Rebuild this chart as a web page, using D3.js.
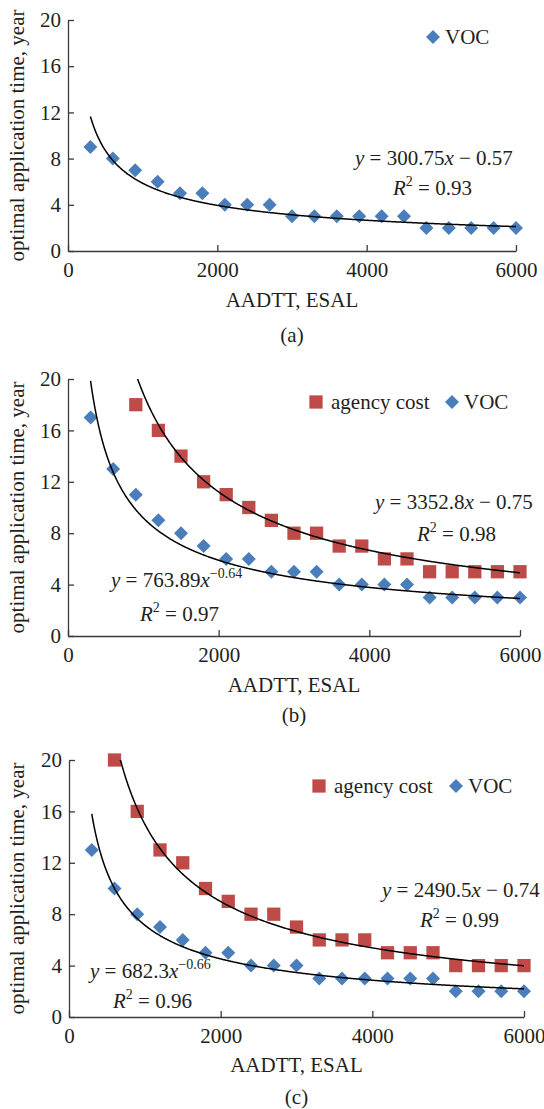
<!DOCTYPE html>
<html>
<head>
<meta charset="utf-8">
<script src="https://cdn.jsdelivr.net/npm/d3@7"></script>
<style>
  body { margin: 0; background: #fff; }
</style>
</head>
<body>
<div id="chart"></div>
<script>
// x values (AADTT, ESAL)
const aadtt = [300, 600, 900, 1200, 1500, 1800, 2100, 2400, 2700, 3000, 3300, 3600, 3900, 4200, 4500, 4800, 5100, 5400, 5700, 6000];
const aadttAgencyB = [900, 1200, 1500, 1800, 2100, 2400, 2700, 3000, 3300, 3600, 3900, 4200, 4500, 4800, 5100, 5400, 5700, 6000];
const aadttAgencyC = [600, 900, 1200, 1500, 1800, 2100, 2400, 2700, 3000, 3300, 3600, 3900, 4200, 4500, 4800, 5100, 5400, 5700, 6000];

// optimal application time, year
const vocA = [9, 8, 7, 6, 5, 5, 4, 4, 4, 3, 3, 3, 3, 3, 3, 2, 2, 2, 2, 2];
const vocB = [17, 13, 11, 9, 8, 7, 6, 6, 5, 5, 5, 4, 4, 4, 4, 3, 3, 3, 3, 3];
const agencyB = [18, 16, 14, 12, 11, 10, 9, 8, 8, 7, 7, 6, 6, 5, 5, 5, 5, 5];
const vocC = [13, 10, 8, 7, 6, 5, 5, 4, 4, 4, 3, 3, 3, 3, 3, 3, 2, 2, 2, 2];
const agencyC = [20, 16, 13, 12, 10, 9, 8, 8, 7, 6, 6, 6, 5, 5, 5, 4, 4, 4, 4];

// power trendlines y = a * x^b, and R^2
const fitVocA = [300.75, -0.57, "0.93"];
const fitVocB = [763.89, -0.64, "0.97"];
const fitAgencyB = [3352.8, -0.75, "0.98"];
const fitVocC = [682.3, -0.66, "0.96"];
const fitAgencyC = [2490.5, -0.74, "0.99"];

const xTicks = [0, 2000, 4000, 6000];
const yTicks = [0, 4, 8, 12, 16, 20];
const seriesNames = ["agency cost", "VOC"];

const blue = "#4a7ebb";
const red = "#be4b48";
const axisColor = "#3a3a3a";
const serif = "'Liberation Serif', 'Times New Roman', 'DejaVu Serif', serif";

const W = 544, H = 1109;
const svg = d3.select("#chart").append("svg")
    .attr("width", W)
    .attr("height", H)
    .style("font-family", serif);

const panels = [
  {
    id: "a", top: 20, bottom: 251, left: 68, right: 516,
    titleY: 307, labelY: 342,
    series: [{ x: aadtt, y: vocA, fit: fitVocA, kind: "voc" }],
    legend: [{ kind: "voc", x: 433, y: 37 }],
    eqs: [{ fit: fitVocA, sup: false, x: 355, y: 165, rx: 393, ry: 195 }]
  },
  {
    id: "b", top: 379, bottom: 636, left: 68, right: 520,
    titleY: 692, labelY: 722,
    series: [
      { x: aadttAgencyB, y: agencyB, fit: fitAgencyB, kind: "agency" },
      { x: aadtt, y: vocB, fit: fitVocB, kind: "voc" }
    ],
    legend: [{ kind: "agency", x: 316, y: 402 }, { kind: "voc", x: 452, y: 402 }],
    eqs: [
      { fit: fitAgencyB, sup: false, x: 375, y: 509, rx: 417, ry: 541 },
      { fit: fitVocB, sup: true, x: 111, y: 587, rx: 140, ry: 621 }
    ]
  },
  {
    id: "c", top: 760, bottom: 1017, left: 69, right: 524,
    titleY: 1072, labelY: 1104,
    series: [
      { x: aadttAgencyC, y: agencyC, fit: fitAgencyC, kind: "agency" },
      { x: aadtt, y: vocC, fit: fitVocC, kind: "voc" }
    ],
    legend: [{ kind: "agency", x: 319, y: 786 }, { kind: "voc", x: 456, y: 786 }],
    eqs: [
      { fit: fitAgencyC, sup: false, x: 382, y: 897, rx: 420, ry: 927 },
      { fit: fitVocC, sup: true, x: 90, y: 978, rx: 113, ry: 1008 }
    ]
  }
];

const diamond = d3.symbol().type(d3.symbolSquare).size(98);
const square = d3.symbol().type(d3.symbolSquare).size(176);

function marker(g, kind, x, y) {
  if (kind === "voc") {
    g.append("path").attr("d", diamond())
      .attr("transform", `translate(${x},${y}) rotate(45)`)
      .attr("fill", blue);
  } else {
    g.append("path").attr("d", square())
      .attr("transform", `translate(${x},${y})`)
      .attr("fill", red);
  }
}

function txt(g) {
  return g.append("text")
    .style("font-family", serif)
    .style("font-size", "21px")
    .attr("fill", "#231f20");
}

panels.forEach(p => {
  const g = svg.append("g");

  const x = d3.scaleLinear().domain([0, 6000]).range([p.left, p.right]);
  const y = d3.scaleLinear().domain([0, 20]).range([p.bottom, p.top]);

  // axes, ticks pointing into the plot
  const xAxis = g.append("g")
      .attr("transform", `translate(0,${p.bottom})`)
      .call(d3.axisBottom(x).tickValues(xTicks).tickSizeInner(-6).tickSizeOuter(0).tickPadding(11).tickFormat(d3.format("d")));
  const yAxis = g.append("g")
      .attr("transform", `translate(${p.left},0)`)
      .call(d3.axisLeft(y).tickValues(yTicks).tickSizeInner(-6).tickSizeOuter(0).tickPadding(7));
  [xAxis, yAxis].forEach(ax => {
    ax.attr("font-family", null).attr("font-size", null);
    ax.select(".domain").attr("stroke", axisColor).attr("stroke-width", 1.3);
    ax.selectAll(".tick line").attr("stroke", axisColor).attr("stroke-width", 1.3);
    ax.selectAll(".tick text")
      .style("font-family", serif)
      .style("font-size", "21px")
      .attr("fill", "#231f20");
  });

  // axis titles
  txt(g)
    .attr("transform", `translate(17,${(p.top + p.bottom) / 2}) rotate(-90)`)
    .attr("text-anchor", "middle")
    .attr("dy", "0.32em")
    .text("optimal application time, year");
  txt(g)
    .attr("x", (p.left + p.right) / 2)
    .attr("y", p.titleY)
    .attr("text-anchor", "middle")
    .text("AADTT, ESAL");
  txt(g)
    .attr("x", (p.left + p.right) / 2)
    .attr("y", p.labelY)
    .attr("text-anchor", "middle")
    .text(`(${p.id})`);

  // trendlines clipped to the plot area
  const clipId = "clip-" + p.id;
  svg.append("clipPath").attr("id", clipId)
    .append("rect")
    .attr("x", p.left).attr("y", p.top)
    .attr("width", p.right - p.left).attr("height", p.bottom - p.top);

  const line = d3.line().x(d => x(d[0])).y(d => y(d[1]));

  p.series.forEach(s => {
    s.x.forEach((v, i) => marker(g, s.kind, x(v), y(s.y[i])));
  });

  p.series.forEach(s => {
    const [a, b] = s.fit;
    const xs = d3.range(s.x[0], 6000, 10).concat([6000]);
    g.append("path")
      .datum(xs.map(v => [v, a * Math.pow(v, b)]))
      .attr("clip-path", `url(#${clipId})`)
      .attr("fill", "none")
      .attr("stroke", "#000")
      .attr("stroke-width", 1.5)
      .attr("d", line);
  });

  // legend
  p.legend.forEach(l => {
    marker(g, l.kind, l.x, l.y);
    txt(g)
      .attr("x", l.x + (l.kind === "voc" ? 12 : 15))
      .attr("y", l.y + 7)
      .text(l.kind === "voc" ? seriesNames[1] : seriesNames[0]);
  });

  // equations
  p.eqs.forEach(e => {
    const [a, b, r2] = e.fit;
    const t = txt(g).attr("x", e.x).attr("y", e.y);
    t.append("tspan").style("font-style", "italic").text("y");
    t.append("tspan").text(" = " + a);
    t.append("tspan").style("font-style", "italic").text("x");
    if (e.sup) {
      t.append("tspan").style("font-size", "14px").attr("dy", -9).text("\u2212" + Math.abs(b));
    } else {
      t.append("tspan").text(" \u2212 " + Math.abs(b));
    }
    const r = txt(g).attr("x", e.rx).attr("y", e.ry);
    r.append("tspan").style("font-style", "italic").text("R");
    r.append("tspan").style("font-size", "14px").attr("dy", -9).text("2");
    r.append("tspan").attr("dy", 9).text(" = " + r2);
  });
});
</script>
</body>
</html>
